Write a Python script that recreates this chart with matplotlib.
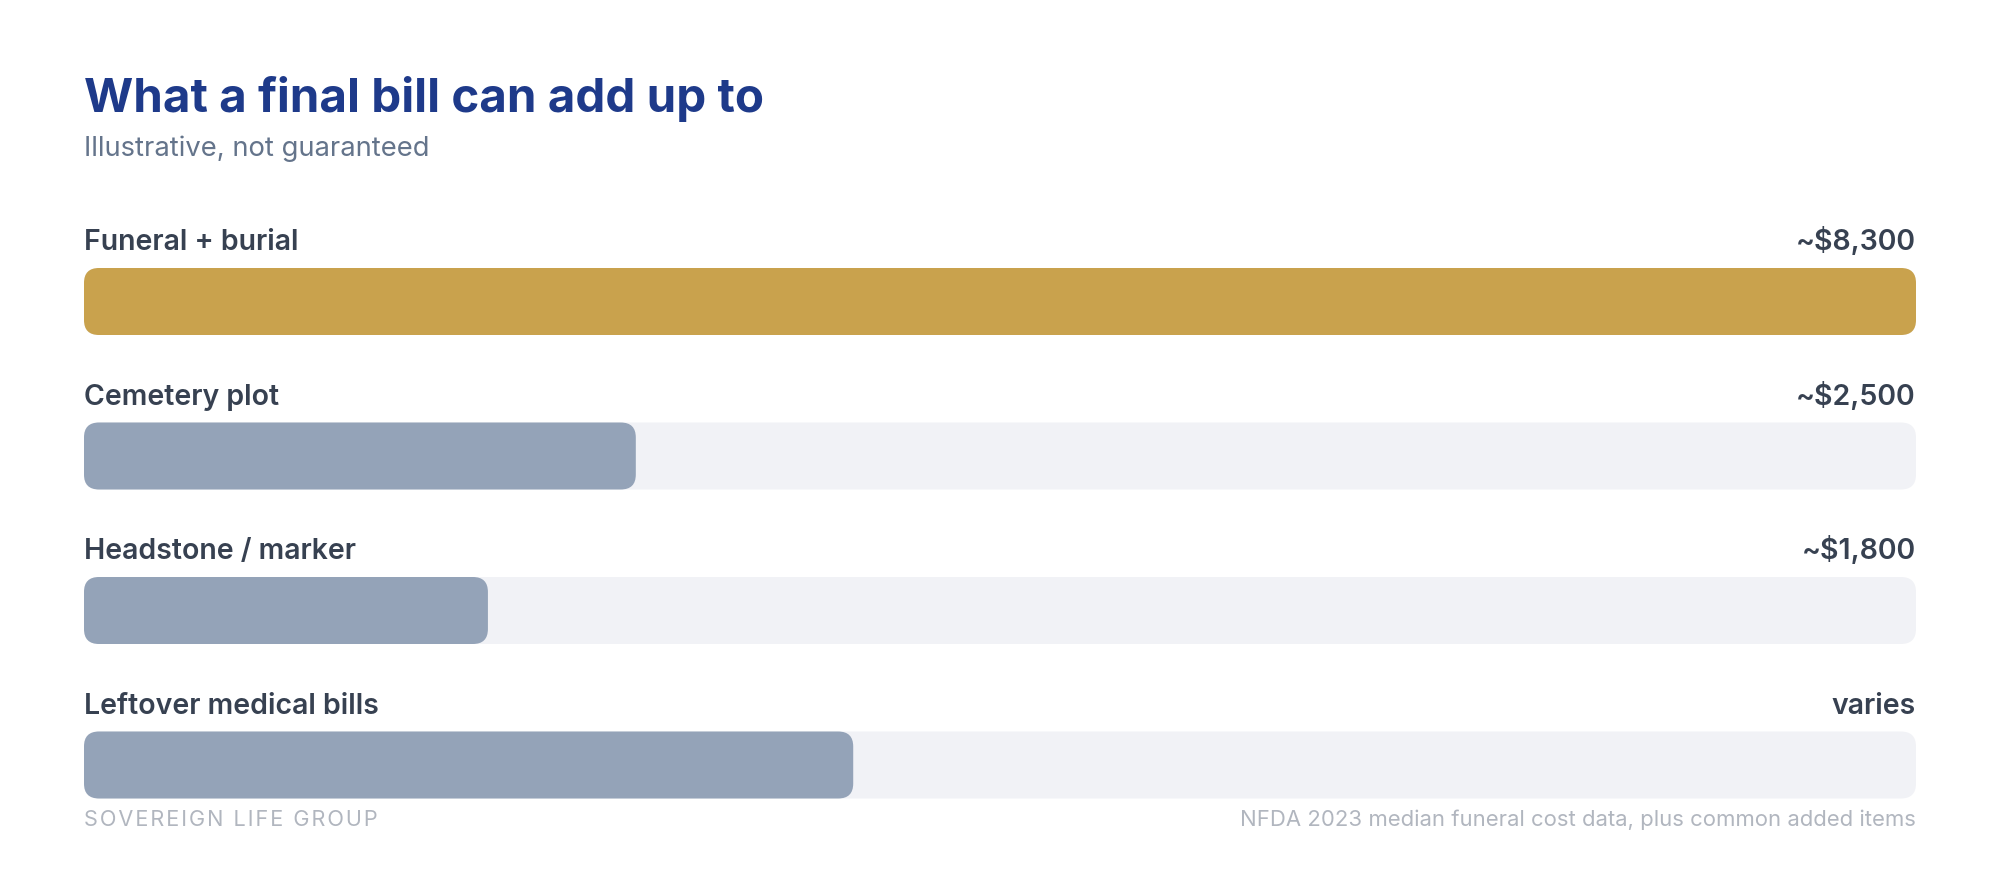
import matplotlib.pyplot as plt
from matplotlib.patches import FancyBboxPatch

# data
labels = ['Funeral + burial', 'Cemetery plot', 'Headstone / marker', 'Leftover medical bills']
values = [8300, 2500, 1830, 3485]   # "varies" shown as a ~3,500 wide bar
value_text = ['~$8,300', '~$2,500', '~$1,800', 'varies']
max_value = 8300

plt.rcParams['font.family'] = ['Inter', 'DejaVu Sans']

W, H = 2000, 880
fig = plt.figure(figsize=(W / 100, H / 100), dpi=100)
fig.patch.set_facecolor('white')

# layout in pixels
left, right = 84, 1916
first_top = 268
row_gap = 154.5
bar_h = 67
radius_px = 15

gold = '#C9A24D'
slate = '#94A3B8'
track = '#F1F2F6'
label_c = '#374151'


def fx(px):
    return px / W


def fy(py):
    return 1 - py / H


# axes for bars: x in dollars, y in pixels (top-down)
bars_top = first_top
bars_bot = first_top + row_gap * (len(values) - 1) + bar_h
ax = fig.add_axes([fx(left), fy(bars_bot), (right - left) / W, (bars_bot - bars_top) / H])
ax.set_xlim(0, max_value)
ax.set_ylim(bars_bot - bars_top, 0)
ax.axis('off')

px_per_dollar = (right - left) / max_value
r_x = radius_px / px_per_dollar
aspect = px_per_dollar  # y units are pixels

for i, (lab, v, vt) in enumerate(zip(labels, values, value_text)):
    y0 = i * row_gap
    ax.add_patch(FancyBboxPatch((0, y0), max_value, bar_h,
                                boxstyle=f'round,pad=0,rounding_size={r_x}',
                                mutation_aspect=aspect, fc=track, ec='none'))
    ax.add_patch(FancyBboxPatch((0, y0), v, bar_h,
                                boxstyle=f'round,pad=0,rounding_size={r_x}',
                                mutation_aspect=aspect,
                                fc=gold if i == 0 else slate, ec='none'))
    base = first_top + y0 - 18
    fig.text(fx(left), fy(base), lab, fontsize=20.5, fontweight='semibold',
             color=label_c, ha='left', va='baseline')
    fig.text(fx(right), fy(base), vt, fontsize=20.5, fontweight='semibold',
             color=label_c, ha='right', va='baseline')

fig.text(fx(left), fy(112), 'What a final bill can add up to', fontsize=34.2,
         fontweight='bold', color='#1E3A8A', ha='left', va='baseline')
fig.text(fx(left), fy(156), 'Illustrative, not guaranteed', fontsize=19.7,
         color='#64748B', ha='left', va='baseline')

brand = '\u200a'.join('SOVEREIGN LIFE GROUP')
fig.text(fx(left), fy(826), brand, fontsize=15.6, color='#B1B6BF',
         ha='left', va='baseline')
fig.text(fx(right), fy(826), 'NFDA 2023 median funeral cost data, plus common added items',
         fontsize=15.9, color='#B1B6BF', ha='right', va='baseline')

fig.savefig('out.png', dpi=100, facecolor='white')
